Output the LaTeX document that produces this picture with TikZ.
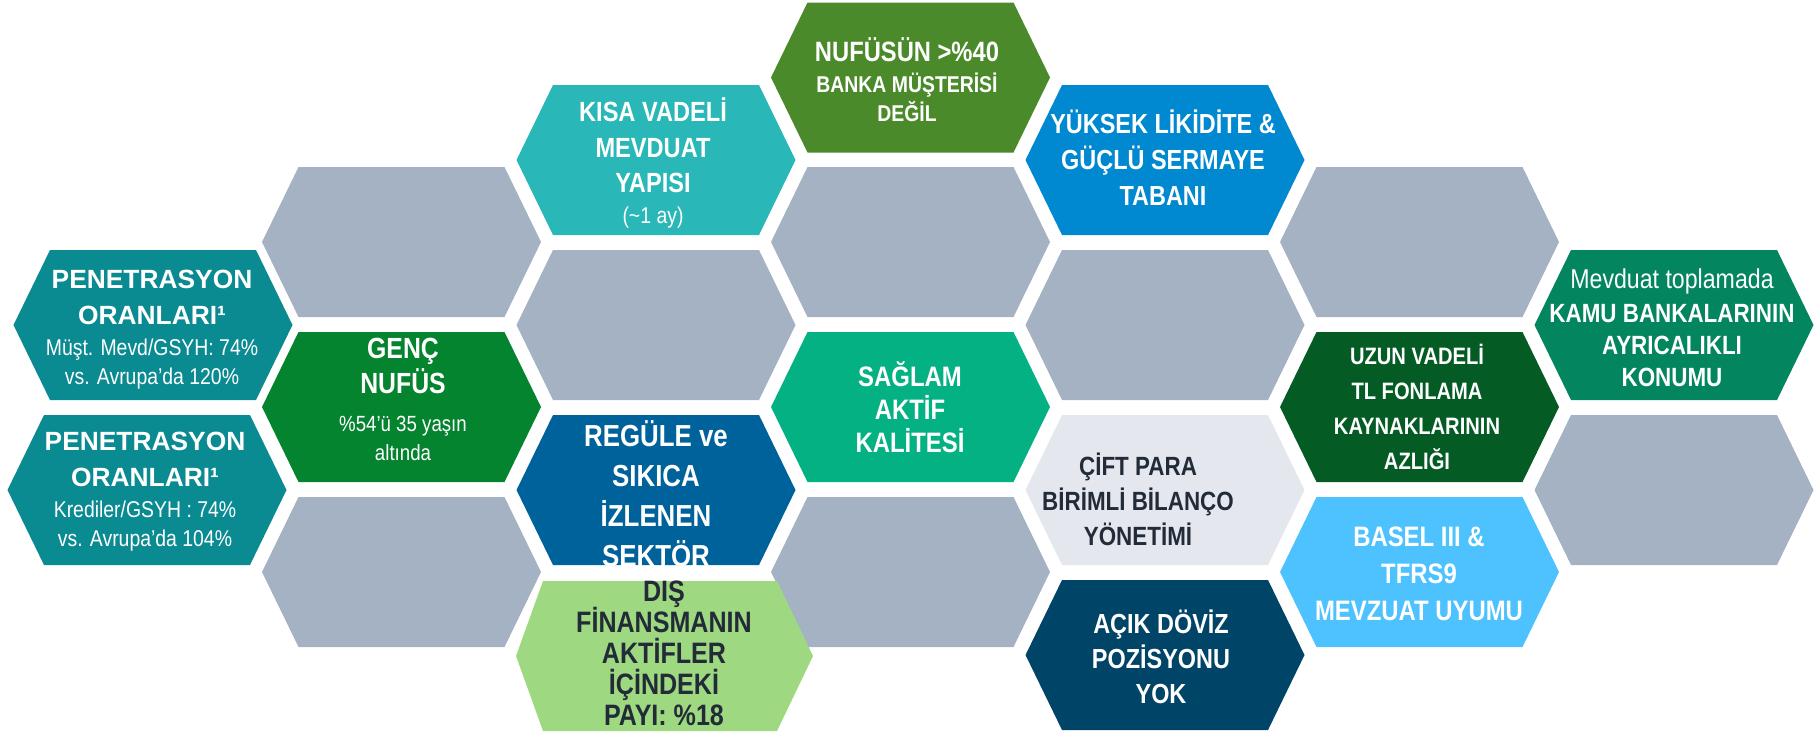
\documentclass[tikz,border=0pt]{standalone}
\usepackage{fontspec}
\setmainfont{Liberation Sans}
\newfontfamily\nar[FakeStretch=0.85]{Liberation Sans}
\newcommand\fs[2]{\fontsize{#1}{#2}\selectfont\lineskiplimit=-100pt\relax}
\definecolor{hgray}{HTML}{A4B2C3}
\definecolor{cpen}{HTML}{0A8A91}
\definecolor{cgenc}{HTML}{05842F}
\definecolor{ckisa}{HTML}{2AB7B7}
\definecolor{cnuf}{HTML}{4A8A2A}
\definecolor{cyuk}{HTML}{0088D0}
\definecolor{creg}{HTML}{00629B}
\definecolor{csag}{HTML}{04B183}
\definecolor{cdis}{HTML}{9ED981}
\definecolor{ccift}{HTML}{E4E8EE}
\definecolor{cacik}{HTML}{004467}
\definecolor{cuzun}{HTML}{045C24}
\definecolor{cbasel}{HTML}{4DC2FF}
\definecolor{cmevd}{HTML}{03865F}
\definecolor{dtext}{HTML}{222B37}
\newcommand\hexcell[4]{%
  \coordinate (#1) at (#2,#3);
  \fill[#4,shift={(#2,#3)}] (-139.5,0) -- (-103,-75) -- (103,-75) -- (139.5,0) -- (103,75) -- (-103,75) -- cycle;}
\tikzset{txt/.style={text=white,align=center,inner sep=0pt}}
\begin{document}
\begin{tikzpicture}[x=0.02cm,y=-0.02cm]
\useasboundingbox (0,0) rectangle (1818,734);
% gray cells
\hexcell{g1}{401.5}{242}{hgray}
\hexcell{g2}{401.5}{572}{hgray}
\hexcell{g3}{656}{325}{hgray}
\hexcell{g4}{910.5}{242}{hgray}
\hexcell{g5}{910.5}{572}{hgray}
\hexcell{g6}{1165}{325}{hgray}
\hexcell{g7}{1419.5}{242}{hgray}
\hexcell{g8}{1674}{490}{hgray}
% coloured cells
\hexcell{pen1}{153}{325}{cpen}
\hexcell{pen2}{147}{490}{cpen}
\hexcell{genc}{401.5}{407}{cgenc}
\hexcell{kisa}{656}{160}{ckisa}
\hexcell{reg}{656}{490}{creg}
\coordinate (dis) at (664.5,656);
\fill[cdis] (516,656) -- (543,581) -- (777,581) -- (813,656) -- (777,731) -- (543,731) -- cycle;
\hexcell{nuf}{910.5}{77.5}{cnuf}
\hexcell{sag}{910.5}{407}{csag}
\hexcell{yuk}{1165}{160}{cyuk}
\hexcell{cift}{1165}{490}{ccift}
\hexcell{acik}{1165}{655}{cacik}
\hexcell{uzun}{1419.5}{407}{cuzun}
\hexcell{basel}{1419.5}{572}{cbasel}
\hexcell{mevd}{1674}{325}{cmevd}
% texts
\node[txt,font={\bfseries\fs{15}{20.4}}] (t-pen1) at (152,330) {PENETRASYON\\ORANLARI¹\\[-2.8pt]{\nar\mdseries\fs{13}{20.4}Müşt. Mevd/GSYH: 74\%}\\[-3.6pt]{\nar\mdseries\fs{13}{20.4}vs. Avrupa’da 120\%}};
\node[txt,font={\bfseries\fs{15}{20.4}}] (t-pen2) at (145,492) {PENETRASYON\\ORANLARI¹\\[-2.8pt]{\nar\mdseries\fs{13}{20.4}Krediler/GSYH : 74\%}\\[-3.6pt]{\nar\mdseries\fs{13}{20.4}vs. Avrupa’da 104\%}};
\node[txt,font={\nar\bfseries\fs{16.6}{20}}] (t-genc) at (403,399) {GENÇ\\NUFÜS\\[2pt]{\mdseries\fs{12.5}{20}\%54’ü 35 yaşın}\\[-4pt]{\mdseries\fs{12.5}{20}altında}};
\node[txt,font={\nar\bfseries\fs{15.8}{20.2}}] (t-kisa) at (653,163) {KISA VADELİ\\MEVDUAT\\YAPISI\\[-2.6pt]{\mdseries\fs{13}{20.2}(\textasciitilde1 ay)}};
\node[txt,font={\nar\bfseries\fs{13}{17}}] (t-nuf) at (907,79.5) {{\fs{15.9}{17}NUFÜSÜN >\%40}\\[1pt]BANKA MÜŞTERİSİ\\[-0.5pt]DEĞİL};
\node[txt,font={\nar\bfseries\fs{15.7}{20.5}}] (t-yuk) at (1163,158) {YÜKSEK LİKİDİTE \&\\GÜÇLÜ SERMAYE\\TABANI};
\node[txt,font={\nar\bfseries\fs{17.3}{22.8}}] (t-reg) at (656,493.5) {REGÜLE ve\\SIKICA\\İZLENEN\\SEKTÖR};
\node[txt,font={\nar\bfseries\fs{16}{18.7}}] (t-sag) at (910,407.5) {SAĞLAM\\AKTİF\\KALİTESİ};
\node[txt,text=dtext,font={\nar\bfseries\fs{16.8}{17.6}}] (t-dis) at (664,653.5) {DIŞ\\FİNANSMANIN\\AKTİFLER\\İÇİNDEKİ\\PAYI: \%18};
\node[txt,text=dtext,font={\nar\bfseries\fs{15}{19.8}}] (t-cift) at (1138,499.5) {ÇİFT PARA\\BİRİMLİ BİLANÇO\\YÖNETİMİ};
\node[txt,font={\nar\bfseries\fs{15.7}{19.8}}] (t-acik) at (1161,657) {AÇIK DÖVİZ\\POZİSYONU\\YOK};
\node[txt,font={\nar\bfseries\fs{13.5}{19.8}}] (t-uzun) at (1417,407) {UZUN VADELİ\\TL FONLAMA\\KAYNAKLARININ\\AZLIĞI};
\node[txt,font={\nar\bfseries\fs{16}{21}}] (t-basel) at (1419,573.5) {BASEL III \&\\TFRS9\\MEVZUAT UYUMU};
\node[txt,font={\nar\bfseries\fs{15}{18}}] (t-mevd) at (1672,328) {{\mdseries\fs{15.5}{18}Mevduat toplamada}\\[0.8pt]KAMU BANKALARININ\\[0.7pt]AYRICALIKLI\\KONUMU};
\end{tikzpicture}
\end{document}
